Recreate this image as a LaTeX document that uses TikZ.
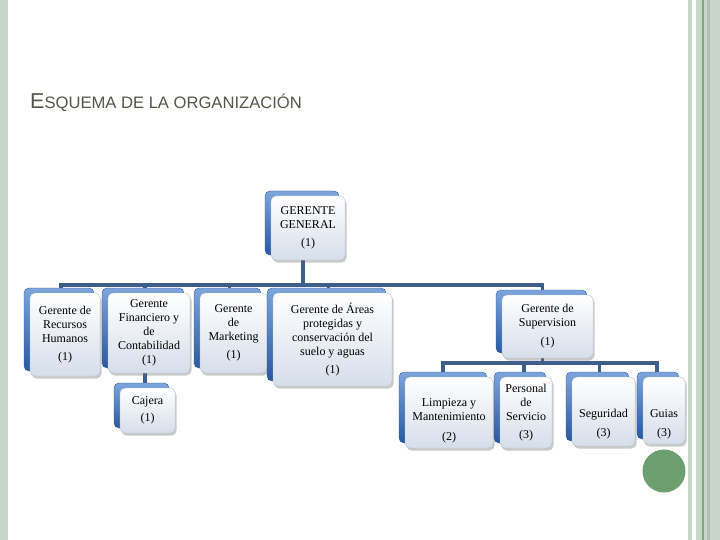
\documentclass[tikz,border=0pt]{standalone}
\usepackage{fontspec}
\setmainfont{Liberation Serif}
\newfontfamily\titlefont{Liberation Sans}
\usetikzlibrary{shadows,backgrounds}
\definecolor{stripe}{RGB}{200,214,202}
\definecolor{stripedark}{RGB}{128,165,130}
\definecolor{titlegray}{RGB}{85,85,74}
\definecolor{frontline}{RGB}{185,196,212}
\definecolor{frontbot}{RGB}{214,222,234}
\definecolor{backtop}{RGB}{125,165,220}
\definecolor{backbot}{RGB}{40,88,160}
\definecolor{backline}{RGB}{45,90,155}
\definecolor{connc}{RGB}{62,95,140}
\definecolor{dotgreen}{RGB}{108,158,112}
\tikzset{
  orgbox/.style={rounded corners=5pt, draw=frontline, top color=white, bottom color=frontbot,
    align=center, inner sep=2pt, font=\fontsize{12}{14}\selectfont,
    drop shadow={shadow xshift=1.5pt, shadow yshift=-2.5pt, opacity=0.35, fill=black!60},
    preaction={draw=backline, top color=backtop, bottom color=backbot,
      transform canvas={xshift=-6pt,yshift=5pt}}},
  conn/.style={draw=connc, line width=3.2pt}
}
\begin{document}
\begin{tikzpicture}[x=1pt,y=-1pt]
\useasboundingbox (0,0) rectangle (720,540);
\begin{scope}[on background layer]
\fill[white] (0,0) rectangle (720,540);
% side stripes
\fill[stripe] (0,0) rectangle (8,540);
\fill[stripe] (688,0) rectangle (692,540);
\fill[stripe] (696,0) rectangle (720,540);
\fill[stripedark] (702,0) rectangle (703.5,540);
\fill[stripe!85!black!90] (707,0) rectangle (710,540);
\end{scope}

% title
\node[anchor=base west, inner sep=0, text=titlegray] (title) at (30,109)
  {\titlefont\fontsize{21.5}{20}\selectfont E\fontsize{16.6}{16}\selectfont SQUEMA DE LA ORGANIZACIÓN};

% level 0
\node[orgbox, minimum width=74pt, minimum height=64pt] (gg) at (308,228)
  {GERENTE\\GENERAL\\[4pt](1)};

% level 1
\node[orgbox, minimum width=70pt, minimum height=83pt] (rh) at (65,334.5)
  {Gerente de\\Recursos\\Humanos\\[4pt](1)};
\node[orgbox, minimum width=82pt, minimum height=80pt] (fin) at (149,333)
  {Gerente\\Financiero y\\de\\Contabilidad\\(1)};
\node[orgbox, minimum width=67pt, minimum height=80pt] (mkt) at (233.5,333)
  {Gerente\\de\\Marketing\\[4pt](1)};
\node[orgbox, minimum width=119pt, minimum height=93pt] (areas) at (332.5,339.5)
  {Gerente de Áreas\\protegidas y\\conservación del\\suelo y aguas\\[4pt](1)};
\node[orgbox, minimum width=91pt, minimum height=63pt] (sup) at (547.5,326.5)
  {Gerente de\\Supervision\\[5pt](1)};
\node[orgbox, minimum width=55pt, minimum height=45pt] (caj) at (147.5,410.5)
  {Cajera\\[3pt](1)};

% level 2
\node[orgbox, minimum width=88pt, minimum height=71pt] (lim) at (449,412.5)
  {\rule{0pt}{25pt}Limpieza y\\Mantenimiento\\[6pt](2)};
\node[orgbox, minimum width=52pt, minimum height=71pt] (per) at (526,412.5)
  {Personal\\de\\Servicio\\[4pt](3)};
\node[orgbox, minimum width=63pt, minimum height=69pt] (seg) at (603.5,411.5)
  {\rule{0pt}{34pt}Seguridad\\[5pt](3)};
\node[orgbox, minimum width=42pt, minimum height=67pt] (gui) at (664,410.5)
  {\rule{0pt}{36pt}Guias\\[5pt](3)};

% decorative dot
\node[circle, fill=dotgreen, inner sep=0, minimum size=43pt] (dot) at (664,471) {};

% connectors
\coordinate (bus1) at (0,285);
\coordinate (bus2) at (0,363);
\coordinate (ggB) at ([xshift=-5pt]gg.south);
\coordinate (rhT) at ([xshift=-4pt]rh.north);
\coordinate (finT) at ([xshift=-4pt]fin.north);
\coordinate (finB) at ([xshift=-4pt]fin.south);
\coordinate (mktT) at ([xshift=-4pt]mkt.north);
\coordinate (areasT) at ([xshift=-4pt]areas.north);
\coordinate (supT) at ([xshift=-5pt]sup.north);
\coordinate (supB) at ([xshift=-5pt]sup.south);
\coordinate (limT) at ([xshift=-6pt]lim.north);
\coordinate (perT) at ([xshift=-2pt]per.north);
\coordinate (segT) at ([xshift=-4pt]seg.north);
\coordinate (guiT) at ([xshift=-7pt]gui.north);
\begin{scope}[on background layer]
\draw[conn] (ggB) -- (ggB |- bus1);
\draw[conn] (rhT) -- (rhT |- bus1) -- (supT |- bus1) -- (supT);
\draw[conn] (finT) -- (finT |- bus1);
\draw[conn] (mktT) -- (mktT |- bus1);
\draw[conn] (areasT) -- (areasT |- bus1);
\draw[conn] (finB) -- (finB |- caj.north);
\draw[conn] (supB) -- (supB |- bus2);
\draw[conn] (limT) -- (limT |- bus2) -- (guiT |- bus2) -- (guiT);
\draw[conn] (perT) -- (perT |- bus2);
\draw[conn] (segT) -- (segT |- bus2);
\end{scope}
\end{tikzpicture}
\end{document}
